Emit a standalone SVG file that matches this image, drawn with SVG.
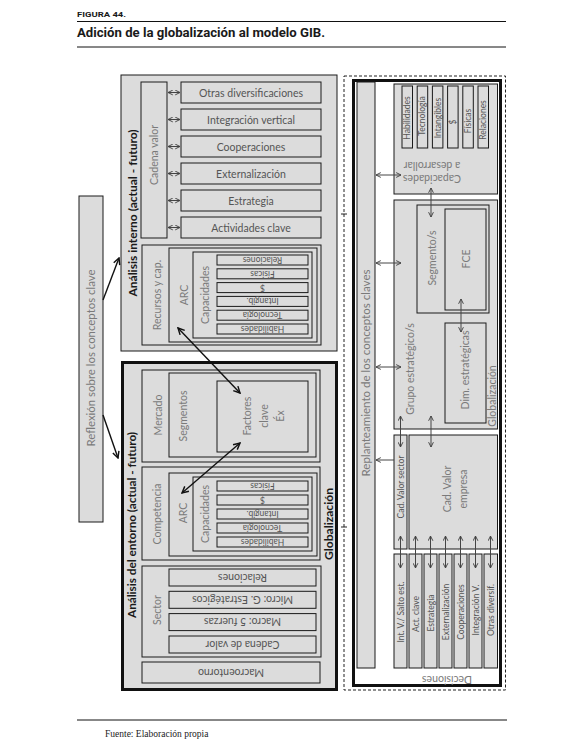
<svg xmlns="http://www.w3.org/2000/svg" width="584" height="754" viewBox="0 0 584 754">
<defs>
<style>
.box{fill:#dcdcdc;stroke:#1a1a1a;stroke-width:1}
.wbox{fill:#ffffff;stroke:#1a1a1a;stroke-width:1}
.thick{fill:#dcdcdc;stroke:#111;stroke-width:3}
.t{font-family:Lato,'Open Sans','Liberation Sans',sans-serif;fill:#555;font-size:10.5px}
.tl{font-family:Lato,'Open Sans','Liberation Sans',sans-serif;fill:#7a7a7a;font-size:10.5px}
.ts{font-family:Lato,'Open Sans','Liberation Sans',sans-serif;fill:#555;font-size:8.5px}
.th{font-family:Lato,'Open Sans','Liberation Sans',sans-serif;fill:#1a1a1a;font-size:11px;font-weight:bold}
.c{text-anchor:middle;dominant-baseline:central}
.ag{fill:none;stroke:#444;stroke-width:1}
.ab{fill:none;stroke:#111;stroke-width:1.4}
</style>
<marker id="hg" viewBox="0 0 10 10" refX="9" refY="5" markerWidth="6" markerHeight="6" markerUnits="userSpaceOnUse" orient="auto-start-reverse"><polyline points="1,1 9,5 1,9" fill="none" stroke="#444" stroke-width="1.6"/></marker>
<marker id="hb" viewBox="0 0 10 10" refX="9" refY="5" markerWidth="8" markerHeight="8" markerUnits="userSpaceOnUse" orient="auto-start-reverse"><polyline points="1,1 9,5 1,9" fill="none" stroke="#111" stroke-width="1.8"/></marker>
</defs>
<rect width="584" height="754" fill="#fff"/>

<g id="header">
<text x="77" y="17" font-family="Roboto,'Liberation Sans',sans-serif" font-weight="bold" font-size="7.5" fill="#1a1a1a" textLength="49" lengthAdjust="spacingAndGlyphs">FIGURA 44.</text>
<line x1="77" y1="21.5" x2="506" y2="21.5" stroke="#111" stroke-width="1"/>
<text x="77" y="37" font-family="Roboto,'Liberation Sans',sans-serif" font-weight="bold" font-size="12.5" fill="#1a1a1a" textLength="248" lengthAdjust="spacingAndGlyphs">Adición de la globalización al modelo GIB.</text>
<line x1="77" y1="47" x2="506" y2="47" stroke="#111" stroke-width="1"/>
</g>

<g id="reflexion">
<rect class="box" x="79" y="196" width="24" height="326"/>
<text class="tl c" transform="translate(91,358) rotate(-90)" textLength="177" lengthAdjust="spacingAndGlyphs">Reflexión sobre los conceptos clave</text>
</g>

<g id="analisis-interno">
<rect class="box" x="121" y="75" width="216" height="276"/>
<text class="th c" transform="translate(132,213) rotate(-90)" textLength="167" lengthAdjust="spacingAndGlyphs">Análisis interno (actual - futuro)</text>
</g>
<g id="cadena-valor">
<rect class="box" x="141" y="82" width="26" height="156"/>
<text class="tl c" transform="translate(154,155) rotate(-90)">Cadena valor</text>
</g>
<g id="otras-div"><rect class="box" x="181" y="82" width="140" height="21"/><text class="t c" x="251" y="92.5">Otras diversificaciones</text></g>
<g id="integracion"><rect class="box" x="181" y="109" width="140" height="21"/><text class="t c" x="251" y="119.5">Integración vertical</text></g>
<g id="cooperaciones"><rect class="box" x="181" y="136" width="140" height="21"/><text class="t c" x="251" y="146.5">Cooperaciones</text></g>
<g id="externalizacion"><rect class="box" x="181" y="163" width="140" height="21"/><text class="t c" x="251" y="173.5">Externalización</text></g>
<g id="estrategia"><rect class="box" x="181" y="190" width="140" height="21"/><text class="t c" x="251" y="200.5">Estrategia</text></g>
<g id="actividades"><rect class="box" x="181" y="217" width="140" height="21"/><text class="t c" x="251" y="227.5">Actividades clave</text></g>

<g id="recursos">
<rect class="box" x="142" y="245" width="179" height="100"/>
<text class="tl c" transform="translate(157,295) rotate(-90)">Recursos y cap.</text>
</g>
<g id="arc-int">
<rect class="box" x="169" y="248" width="148" height="94"/>
<text class="tl c" transform="translate(184,295) rotate(-90)">ARC</text>
</g>
<g id="capacidades-int">
<rect class="box" x="193" y="252" width="119" height="86"/>
<text class="tl c" transform="translate(205,295) rotate(-90)">Capacidades</text>
<rect class="box" x="217" y="255" width="91" height="10"/><text class="ts c" transform="translate(262.5,260) rotate(180)">Relaciones</text>
<rect class="box" x="217" y="268.8" width="91" height="10"/><text class="ts c" transform="translate(262.5,273.8) rotate(180)">Físicas</text>
<rect class="box" x="217" y="282.6" width="91" height="10"/><text class="ts c" transform="translate(262.5,287.6) rotate(180)">$</text>
<rect class="box" x="217" y="296.4" width="91" height="10"/><text class="ts c" transform="translate(262.5,301.4) rotate(180)">Intangib.</text>
<rect class="box" x="217" y="310.2" width="91" height="10"/><text class="ts c" transform="translate(262.5,315.2) rotate(180)">Tecnología</text>
<rect class="box" x="217" y="324" width="91" height="10"/><text class="ts c" transform="translate(262.5,329) rotate(180)">Habilidades</text>
</g>

<g id="analisis-entorno">
<rect class="thick" x="122.5" y="362.5" width="214" height="327"/>
<text class="th c" transform="translate(131,525) rotate(-90)" textLength="186" lengthAdjust="spacingAndGlyphs">Análisis del entorno (actual - futuro)</text>
<text class="th c" transform="translate(328,524) rotate(-90)" textLength="72" lengthAdjust="spacingAndGlyphs">Globalización</text>
</g>
<g id="mercado">
<rect class="box" x="142" y="370" width="178" height="92"/>
<text class="tl c" transform="translate(158,415) rotate(-90)">Mercado</text>
</g>
<g id="segmentos">
<rect class="box" x="169" y="373" width="147" height="84"/>
<text class="tl c" transform="translate(183,416) rotate(-90)">Segmentos</text>
</g>
<g id="factores">
<rect class="box" x="217" y="381" width="91" height="71"/>
<text class="tl c" transform="translate(247,416) rotate(-90)">Factores</text>
<text class="tl c" transform="translate(264,416) rotate(-90)">clave</text>
<text class="tl c" transform="translate(280,416) rotate(-90)">Éx</text>
</g>
<g id="competencia">
<rect class="box" x="142" y="467" width="178" height="93"/>
<text class="tl c" transform="translate(157,514) rotate(-90)">Competencia</text>
</g>
<g id="arc-ext">
<rect class="box" x="169" y="473" width="148" height="83"/>
<text class="tl c" transform="translate(183,513) rotate(-90)">ARC</text>
</g>
<g id="capacidades-ext">
<rect class="box" x="193" y="477" width="119" height="74"/>
<text class="tl c" transform="translate(205,514) rotate(-90)">Capacidades</text>
<rect class="box" x="217" y="481" width="91" height="10"/><text class="ts c" transform="translate(262.5,486) rotate(180)">Físicas</text>
<rect class="box" x="217" y="495" width="91" height="10"/><text class="ts c" transform="translate(262.5,500) rotate(180)">$</text>
<rect class="box" x="217" y="509" width="91" height="10"/><text class="ts c" transform="translate(262.5,514) rotate(180)">Intangib.</text>
<rect class="box" x="217" y="523" width="91" height="10"/><text class="ts c" transform="translate(262.5,528) rotate(180)">Tecnología</text>
<rect class="box" x="217" y="537" width="91" height="10"/><text class="ts c" transform="translate(262.5,542) rotate(180)">Habilidades</text>
</g>
<g id="sector">
<rect class="box" x="142" y="566" width="179" height="91"/>
<text class="tl c" transform="translate(157,610) rotate(-90)">Sector</text>
<rect class="box" x="169" y="569" width="147" height="17"/><text class="t c" transform="translate(242.5,577.5) rotate(180)">Relaciones</text>
<rect class="box" x="169" y="591.3" width="147" height="17"/><text class="t c" transform="translate(242.5,599.8) rotate(180)">Micro: G. Estratégicos</text>
<rect class="box" x="169" y="613.6" width="147" height="17"/><text class="t c" transform="translate(242.5,622.1) rotate(180)">Macro: 5 fuerzas</text>
<rect class="box" x="169" y="636" width="147" height="17"/><text class="t c" transform="translate(242.5,644.5) rotate(180)">Cadena de valor</text>
</g>
<g id="macroentorno">
<rect class="box" x="142" y="662" width="178" height="21"/>
<text class="t c" transform="translate(231,672.5) rotate(180)">Macroentorno</text>
</g>

<g id="panel-derecho">
<rect x="344" y="76" width="161.5" height="614" fill="none" stroke="#222" stroke-width="1" stroke-dasharray="3,2"/>
<line x1="341" y1="214" x2="347" y2="214" stroke="#222"/>
<line x1="341" y1="527" x2="347" y2="527" stroke="#222"/>
<rect x="353.5" y="80.5" width="147" height="605" fill="#fff" stroke="#111" stroke-width="3"/>
<text class="tl c" transform="translate(447,680) rotate(180)">Decisiones</text>
</g>
<g id="replanteamiento">
<rect class="box" x="357" y="82" width="18" height="586"/>
<text class="tl c" transform="translate(366,373) rotate(-90)" font-size="10" textLength="207" lengthAdjust="spacingAndGlyphs">Replanteamiento de los conceptos claves</text>
</g>
<g id="capacidades-desarrollar">
<rect class="box" x="394" y="84" width="103.5" height="110"/>
<rect class="box" x="402" y="86" width="10.5" height="62"/><text class="ts c" transform="translate(407.25,118) rotate(-90)">Habilidades</text>
<rect class="box" x="417.2" y="86" width="10.5" height="62"/><text class="ts c" transform="translate(422.45,116) rotate(-90)">Tecnología</text>
<rect class="box" x="432.4" y="86" width="10.5" height="62"/><text class="ts c" transform="translate(437.65,118) rotate(-90)">Intangibles</text>
<rect class="box" x="447.6" y="86" width="10.5" height="62"/><text class="ts c" transform="translate(452.85,122) rotate(-90)">$</text>
<rect class="box" x="462.8" y="86" width="10.5" height="62"/><text class="ts c" transform="translate(468.05,121) rotate(-90)">Físicas</text>
<rect class="box" x="478" y="86" width="10.5" height="62"/><text class="ts c" transform="translate(483.25,120) rotate(-90)">Relaciones</text>
<text class="tl c" transform="translate(432,166) rotate(180)">a desarrollar</text>
<text class="tl c" transform="translate(432,179) rotate(180)">Capacidades</text>
</g>
<g id="grupo-estrategico">
<rect class="box" x="394" y="200" width="103.5" height="229"/>
<text class="tl c" transform="translate(410,369) rotate(-90)" font-size="10">Grupo estratégico/s</text>
<text class="tl c" transform="translate(492,396) rotate(-90)" font-size="8.5">Globalización</text>
</g>
<g id="segmento-s">
<rect class="box" x="417" y="205" width="72" height="108"/>
<text class="tl c" transform="translate(432,258) rotate(-90)">Segmento/s</text>
</g>
<g id="fce">
<rect class="box" x="445" y="209" width="41" height="101"/>
<text class="tl c" transform="translate(466,259) rotate(-90)">FCE</text>
</g>
<g id="dim-estrategicas">
<rect class="box" x="445" y="323" width="41" height="100"/>
<text class="tl c" transform="translate(465,370) rotate(-90)" font-size="10">Dim. estratégicas</text>
</g>
<g id="cad-valor-sector">
<rect class="box" x="394" y="435" width="13" height="114"/>
<text class="ts c" transform="translate(400.5,487) rotate(-90)" fill="#777">Cad. Valor sector</text>
</g>
<g id="cad-valor-empresa">
<rect class="box" x="409" y="435" width="88.5" height="114"/>
<text class="tl c" transform="translate(447,489) rotate(-90)">Cad. Valor</text>
<text class="tl c" transform="translate(463,489) rotate(-90)">empresa</text>
</g>
<g id="decisiones">
<g id="d-int"><rect class="box" x="394" y="554" width="13" height="114"/><text class="ts c" fill="#777" transform="translate(400.5,612) rotate(-90)">Int. V./ Salto est.</text></g>
<g id="d-act"><rect class="box" x="409" y="554" width="13" height="114"/><text class="ts c" fill="#777" transform="translate(415.5,614) rotate(-90)">Act. clave</text></g>
<g id="d-est"><rect class="box" x="424" y="554" width="13" height="114"/><text class="ts c" fill="#777" transform="translate(430.5,613) rotate(-90)">Estrategia</text></g>
<g id="d-ext"><rect class="box" x="439" y="554" width="13" height="114"/><text class="ts c" fill="#777" transform="translate(445.5,612) rotate(-90)">Externalización</text></g>
<g id="d-coop"><rect class="box" x="454" y="554" width="13" height="114"/><text class="ts c" fill="#777" transform="translate(460.5,612) rotate(-90)">Cooperaciones</text></g>
<g id="d-integ"><rect class="box" x="469" y="554" width="13" height="114"/><text class="ts c" fill="#777" transform="translate(475.5,610) rotate(-90)">Integración V.</text></g>
<g id="d-otras"><rect class="box" x="484" y="554" width="13.5" height="114"/><text class="ts c" fill="#777" transform="translate(491,610) rotate(-90)">Otras diversif.</text></g>
</g>

<g id="connectors">
<line class="ab" x1="103" y1="300" x2="119" y2="258" marker-end="url(#hb)"/>
<line class="ab" x1="103" y1="415" x2="118" y2="458" marker-end="url(#hb)"/>
<line class="ab" x1="178" y1="328" x2="240" y2="393" marker-start="url(#hb)" marker-end="url(#hb)"/>
<line class="ab" x1="240" y1="443" x2="182" y2="493" marker-start="url(#hb)" marker-end="url(#hb)"/>
<line class="ag" x1="168" y1="92.5" x2="180" y2="92.5" marker-start="url(#hg)" marker-end="url(#hg)"/>
<line class="ag" x1="168" y1="119.5" x2="180" y2="119.5" marker-start="url(#hg)" marker-end="url(#hg)"/>
<line class="ag" x1="168" y1="146.5" x2="180" y2="146.5" marker-start="url(#hg)" marker-end="url(#hg)"/>
<line class="ag" x1="168" y1="173.5" x2="180" y2="173.5" marker-start="url(#hg)" marker-end="url(#hg)"/>
<line class="ag" x1="168" y1="200.5" x2="180" y2="200.5" marker-start="url(#hg)" marker-end="url(#hg)"/>
<line class="ag" x1="168" y1="227.5" x2="180" y2="227.5" marker-start="url(#hg)" marker-end="url(#hg)"/>
<line class="ag" x1="376" y1="175" x2="401" y2="175" marker-start="url(#hg)" marker-end="url(#hg)"/>
<line class="ag" x1="376" y1="263" x2="401" y2="263" marker-start="url(#hg)" marker-end="url(#hg)"/>
<line class="ag" x1="376" y1="367" x2="401" y2="367" marker-start="url(#hg)" marker-end="url(#hg)"/>
<line class="ag" x1="394" y1="460" x2="376" y2="460" marker-end="url(#hg)"/>
<line class="ag" x1="431" y1="188" x2="431" y2="217" marker-start="url(#hg)" marker-end="url(#hg)"/>
<line class="ag" x1="461" y1="299" x2="461" y2="332" marker-start="url(#hg)" marker-end="url(#hg)"/>
<line class="ag" x1="400.5" y1="416" x2="400.5" y2="447" marker-start="url(#hg)" marker-end="url(#hg)"/>
<line class="ag" x1="431" y1="416" x2="431" y2="447" marker-start="url(#hg)" marker-end="url(#hg)"/>
<line class="ag" x1="400.5" y1="536" x2="400.5" y2="568" marker-start="url(#hg)" marker-end="url(#hg)"/>
<line class="ag" x1="415.5" y1="536" x2="415.5" y2="568" marker-start="url(#hg)" marker-end="url(#hg)"/>
<line class="ag" x1="430.5" y1="536" x2="430.5" y2="568" marker-start="url(#hg)" marker-end="url(#hg)"/>
<line class="ag" x1="445.5" y1="536" x2="445.5" y2="568" marker-start="url(#hg)" marker-end="url(#hg)"/>
<line class="ag" x1="460.5" y1="536" x2="460.5" y2="568" marker-start="url(#hg)" marker-end="url(#hg)"/>
<line class="ag" x1="475.5" y1="536" x2="475.5" y2="568" marker-start="url(#hg)" marker-end="url(#hg)"/>
<line class="ag" x1="490.5" y1="536" x2="490.5" y2="568" marker-start="url(#hg)" marker-end="url(#hg)"/>
</g>

<g id="footer">
<line x1="77" y1="720" x2="507" y2="720" stroke="#111" stroke-width="1"/>
<text x="105" y="737" font-family="'Liberation Serif',serif" font-size="9.5" fill="#222">Fuente: Elaboración propia</text>
</g>
</svg>
